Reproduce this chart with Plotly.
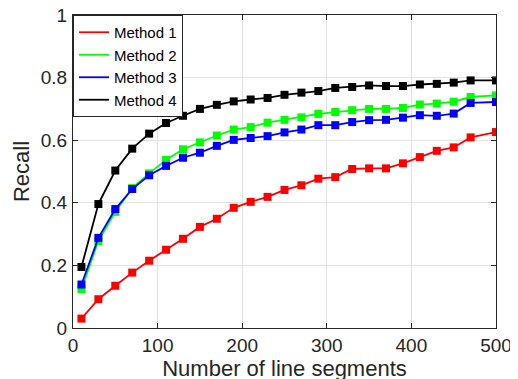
import plotly.graph_objects as go

x_segments = [10, 30, 50, 70, 90, 110, 130, 150, 170, 190, 210, 230, 250,
              270, 290, 310, 330, 350, 370, 390, 410, 430, 450, 470, 500]

method1 = [0.030, 0.092, 0.135, 0.177, 0.215, 0.250, 0.285, 0.323, 0.349, 0.384,
           0.403, 0.419, 0.441, 0.456, 0.477, 0.482, 0.508, 0.510, 0.510, 0.526,
           0.546, 0.566, 0.577, 0.609, 0.626]
method2 = [0.124, 0.278, 0.371, 0.447, 0.494, 0.537, 0.571, 0.593, 0.615, 0.634,
           0.642, 0.656, 0.665, 0.673, 0.684, 0.690, 0.696, 0.700, 0.700, 0.703,
           0.714, 0.717, 0.723, 0.738, 0.743]
method3 = [0.139, 0.288, 0.380, 0.444, 0.488, 0.518, 0.544, 0.560, 0.582, 0.601,
           0.607, 0.613, 0.625, 0.634, 0.648, 0.648, 0.658, 0.664, 0.665, 0.672,
           0.680, 0.678, 0.685, 0.719, 0.722]
method4 = [0.195, 0.396, 0.503, 0.573, 0.621, 0.655, 0.678, 0.700, 0.713, 0.724,
           0.730, 0.735, 0.745, 0.752, 0.757, 0.767, 0.770, 0.775, 0.773, 0.773,
           0.778, 0.780, 0.784, 0.791, 0.791]

series_names = ["Method 1", "Method 2", "Method 3", "Method 4"]
series_values = [method1, method2, method3, method4]
series_colors = ["#ff0000", "#00ff00", "#0000ff", "#000000"]

x_tickvals = [0, 100, 200, 300, 400, 500]
y_tickvals = [0, 0.2, 0.4, 0.6, 0.8, 1.0]
y_ticklabels = ["0", "0.2", "0.4", "0.6", "0.8", "1"]

FONT = "Liberation Sans, Arial, sans-serif"
AX = "#262626"

fig = go.Figure()
for name, vals, col in zip(series_names, series_values, series_colors):
    fig.add_trace(go.Scatter(
        x=x_segments, y=vals, mode="lines+markers", name=name,
        line=dict(color=col, width=1.8),
        marker=dict(symbol="square", size=8, color=col),
        showlegend=False, hoverinfo="skip"))
# legend-only entries (lines without markers, as in the reference)
for name, col in zip(series_names, series_colors):
    fig.add_trace(go.Scatter(
        x=[None], y=[None], mode="lines", name=name,
        line=dict(color=col, width=1.8), showlegend=True))

fig.update_layout(
    width=518, height=379,
    margin=dict(l=65, r=30, t=7, b=59),
    paper_bgcolor="white", plot_bgcolor="white",
    font=dict(family=FONT, color=AX, size=19),
    legend=dict(x=0, y=1, xanchor="left", yanchor="top",
                bgcolor="white", bordercolor=AX, borderwidth=1,
                font=dict(family=FONT, size=15, color="#000000"),
                tracegroupgap=0),
    xaxis=dict(range=[0, 500], tickvals=x_tickvals, automargin=False,
               ticks="inside", ticklen=5, tickcolor=AX, tickwidth=1,
               showline=True, linecolor=AX, linewidth=1, mirror="allticks",
               showgrid=True, gridcolor="#e3e3e3", gridwidth=1,
               zeroline=False, ticklabeloverflow="allow",
               tickfont=dict(size=19, color=AX),
               title=dict(text="Number of line segments",
                          font=dict(size=22, color=AX), standoff=1)),
    yaxis=dict(range=[0, 1], tickvals=y_tickvals, ticktext=y_ticklabels,
               automargin=False,
               ticks="inside", ticklen=5, tickcolor=AX, tickwidth=1,
               showline=True, linecolor=AX, linewidth=1, mirror="allticks",
               showgrid=True, gridcolor="#e3e3e3", gridwidth=1,
               zeroline=False, ticklabelstandoff=1, ticklabeloverflow="allow",
               tickfont=dict(size=19, color=AX),
               title=dict(text="Recall", font=dict(size=22, color=AX),
                          standoff=5)),
)

fig.write_html("out.html")
